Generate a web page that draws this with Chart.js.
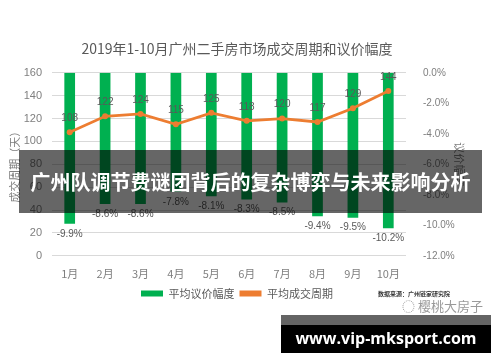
<!DOCTYPE html>
<html>
<head>
<meta charset="utf-8">
<script src="https://cdn.jsdelivr.net/npm/chart.js@4"></script>
<style>
  html, body { margin: 0; padding: 0; background: #fff; }
  #wrap { position: relative; width: 500px; height: 362px; overflow: hidden; }
  #band {
    position: absolute; left: 19px; top: 150px; width: 463px; height: 63px;
    background: rgba(0, 0, 0, 0.6); color: #fff;
    font: bold 20px "Noto Sans CJK SC", sans-serif; line-height: 63px;
    text-align: center; white-space: nowrap;
  }
  #source { position: absolute; left: 378px; top: 289px; font: bold 6px "Noto Sans CJK SC", sans-serif; color: #333; white-space: nowrap; }
  #wx { position: absolute; left: 402px; top: 296px; font: 13px "Noto Sans CJK SC", sans-serif; color: #9a9a9a; white-space: nowrap; }
  #site { position: absolute; left: 281px; top: 315px; width: 210px; height: 38px; }
  #site .top { height: 10px; background: #646464; }
  #site .bot {
    height: 28px; background: #000; color: #fff; text-align: center; white-space: nowrap;
    font: bold 16px "Open Sans", sans-serif; line-height: 26px;
  }
</style>
</head>
<body>
<div id="wrap">
  <canvas id="c" width="500" height="362"></canvas>
  <div id="band">广州队调节费谜团背后的复杂博弈与未来影响分析</div>
  <div id="source">数据来源：广州链家研究院</div>
  <div id="wx">◌ 樱桃大房子</div>
  <div id="site"><div class="top"></div><div class="bot">www.vip-mksport.com</div></div>
</div>
<script>
const months = ['1月', '2月', '3月', '4月', '5月', '6月', '7月', '8月', '9月', '10月'];
const bargain = [-9.9, -8.6, -8.6, -7.8, -8.1, -8.3, -8.5, -9.4, -9.5, -10.2];
const cycleDays = [108, 122, 124, 115, 125, 118, 120, 117, 129, 144];

const fontFamily = '"Liberation Sans", "Noto Sans CJK SC", sans-serif';
const cjk = '"Noto Sans CJK SC", sans-serif';
const txt = '#7f7f7f';

// value labels: line above the point, bars under the bar end
const valueLabels = {
  id: 'valueLabels',
  afterDatasetsDraw(chart) {
    const ctx = chart.ctx;
    ctx.save();
    ctx.font = '10px ' + fontFamily;
    ctx.fillStyle = '#595959';
    ctx.textAlign = 'center';
    chart.getDatasetMeta(0).data.forEach((bar, i) => {
      ctx.textBaseline = 'top';
      ctx.fillText(bargain[i].toFixed(1) + '%', bar.x, bar.y + 5);
    });
    chart.getDatasetMeta(1).data.forEach((pt, i) => {
      ctx.textBaseline = 'bottom';
      ctx.fillText(cycleDays[i], pt.x, pt.y - 9);
    });
    ctx.restore();
  }
};

new Chart(document.getElementById('c'), {
  data: {
    labels: months,
    datasets: [
      {
        type: 'bar',
        label: '平均议价幅度',
        data: bargain,
        yAxisID: 'y2',
        backgroundColor: '#00B050',
        barPercentage: 0.55,
        categoryPercentage: 0.55,
        order: 2
      },
      {
        type: 'line',
        label: '平均成交周期',
        data: cycleDays,
        yAxisID: 'y',
        borderColor: '#ED7D31',
        backgroundColor: '#ED7D31',
        borderWidth: 2.8,
        pointRadius: 3,
        pointBorderWidth: 0,
        tension: 0,
        order: 1
      }
    ]
  },
  options: {
    responsive: false,
    animation: false,
    layout: { padding: { left: 6, right: 32, bottom: 53 } },
    plugins: {
      title: {
        display: true,
        text: '2019年1-10月广州二手房市场成交周期和议价幅度',
        color: '#595959',
        font: { family: cjk, size: 14, weight: 'normal' },
        padding: { top: 40, bottom: 16 }
      },
      legend: {
        position: 'bottom',
        labels: {
          color: '#595959',
          font: { family: cjk, size: 11 },
          boxWidth: 22,
          boxHeight: 6,
          padding: 5,
          generateLabels() {
            return [
              { text: '平均议价幅度', fillStyle: '#00B050', strokeStyle: '#00B050', lineWidth: 0, fontColor: '#595959', datasetIndex: 0 },
              { text: '平均成交周期', fillStyle: '#ED7D31', strokeStyle: '#ED7D31', lineWidth: 0, fontColor: '#595959', datasetIndex: 1 }
            ];
          }
        }
      },
      tooltip: { enabled: false }
    },
    scales: {
      x: {
        grid: { display: false },
        border: { display: false },
        ticks: { color: txt, font: { family: cjk, size: 11 }, padding: 3 }
      },
      y: {
        position: 'left',
        min: 0, max: 160,
        ticks: { stepSize: 20, color: txt, font: { family: fontFamily, size: 11 }, padding: 10 },
        grid: { color: '#d9d9d9', drawTicks: false },
        border: { display: false },
        title: { display: true, text: '成交周期（天）', color: txt, font: { family: cjk, size: 11 }, padding: 2 },
        afterFit(s) { s.width = 46; }
      },
      y2: {
        position: 'right',
        min: -12, max: 0,
        ticks: { stepSize: 2, color: txt, font: { family: fontFamily, size: 10 }, padding: 9, callback: v => v.toFixed(1) + '%' },
        grid: { display: false },
        border: { display: false },
        title: { display: true, text: '议价幅度', color: txt, font: { family: cjk, size: 11 }, padding: 2 },
        afterFit(s) { s.width = 62; }
      }
    }
  },
  plugins: [valueLabels]
});
</script>
</body>
</html>
